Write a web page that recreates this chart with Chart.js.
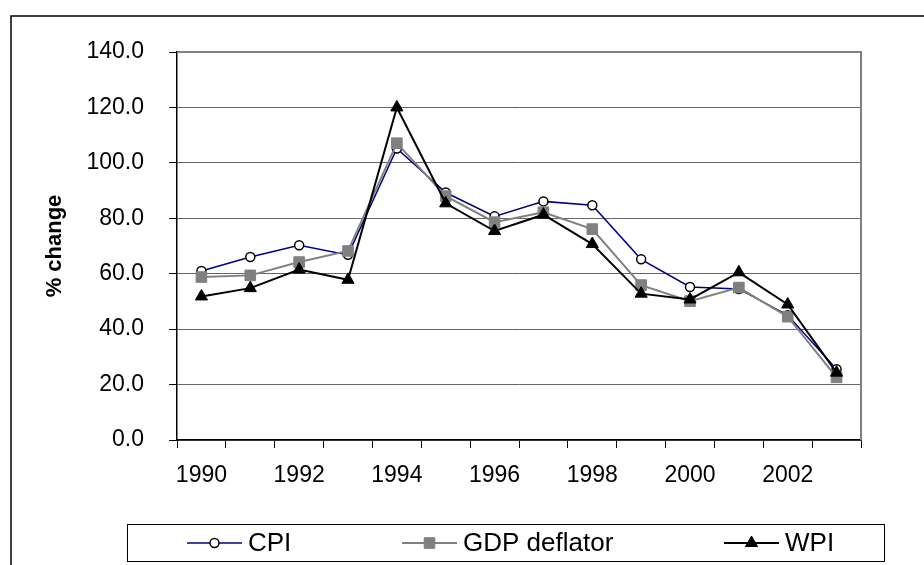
<!DOCTYPE html>
<html>
<head>
<meta charset="utf-8">
<script src="https://cdn.jsdelivr.net/npm/chart.js@4.4.1/dist/chart.umd.min.js"></script>
<style>
  html, body { margin: 0; padding: 0; background: #fff; }
  #wrap { width: 924px; height: 565px; }
</style>
</head>
<body>
<div id="wrap"><canvas id="inflationChart" width="924" height="565"></canvas></div>
<script>
// data
const years = ['1990', '1991', '1992', '1993', '1994', '1995', '1996', '1997', '1998', '1999', '2000', '2001', '2002', '2003'];
const cpi = [61.0, 66.0, 70.3, 66.8, 105.2, 89.3, 80.7, 86.1, 84.7, 65.2, 55.2, 54.5, 45.0, 25.5];
const gdpDeflator = [58.8, 59.4, 64.2, 68.2, 107.1, 88.0, 78.6, 82.2, 76.1, 55.9, 50.1, 55.0, 44.5, 22.6];
const wpi = [51.8, 54.8, 61.5, 57.8, 120.0, 85.4, 75.4, 81.3, 70.7, 52.8, 50.7, 60.5, 48.9, 24.3];
const yTicks = [0, 20, 40, 60, 80, 100, 120, 140];

const font = "'Liberation Sans', Arial, sans-serif";

// frame, plot border and the boxed legend (Excel style)
const excelFrame = {
  id: 'excelFrame',
  afterDraw(chart) {
    const ctx = chart.ctx;
    const a = chart.chartArea;
    ctx.save();
    // outer frame (open on right and bottom)
    ctx.strokeStyle = '#000';
    ctx.lineWidth = 1.5;
    ctx.beginPath();
    ctx.moveTo(11, 565);
    ctx.lineTo(11, 16);
    ctx.lineTo(924, 16);
    ctx.stroke();
    // plot area border top/right
    ctx.strokeStyle = '#808080';
    ctx.lineWidth = 2;
    ctx.beginPath();
    ctx.moveTo(a.left, a.top);
    ctx.lineTo(a.right, a.top);
    ctx.lineTo(a.right, a.bottom);
    ctx.stroke();

    // legend box
    ctx.strokeStyle = '#000';
    ctx.lineWidth = 1;
    ctx.strokeRect(127.5, 524.5, 757, 37);
    const cy = 543;
    const items = [[187, 0], [402, 1], [724, 2]];
    ctx.font = '26px ' + font;
    ctx.textBaseline = 'middle';
    ctx.textAlign = 'left';
    items.forEach(([x0, i]) => {
      const ds = chart.data.datasets[i];
      ctx.strokeStyle = ds.borderColor;
      ctx.lineWidth = ds.borderWidth;
      ctx.beginPath();
      ctx.moveTo(x0, cy);
      ctx.lineTo(x0 + 55, cy);
      ctx.stroke();
      ctx.fillStyle = ds.pointBackgroundColor;
      ctx.strokeStyle = ds.pointBorderColor;
      ctx.lineWidth = ds.pointBorderWidth;
      Chart.helpers.drawPoint(ctx, {
        pointStyle: ds.pointStyle, radius: ds.pointRadius, rotation: 0, borderWidth: ds.pointBorderWidth
      }, x0 + 27.5, cy);
      ctx.fillStyle = '#000';
      ctx.fillText(ds.label, x0 + 61, cy + 1);
    });
    ctx.restore();
  }
};

new Chart(document.getElementById('inflationChart'), {
  type: 'line',
  data: {
    labels: years,
    datasets: [
      {
        label: 'CPI',
        data: cpi,
        borderColor: '#000080',
        borderWidth: 1.5,
        pointStyle: 'circle',
        pointRadius: 4.5,
        pointBackgroundColor: '#fff',
        pointBorderColor: '#000',
        pointBorderWidth: 1.5,
        tension: 0,
        order: 3
      },
      {
        label: 'GDP deflator',
        data: gdpDeflator,
        borderColor: '#808080',
        borderWidth: 2,
        pointStyle: 'rect',
        pointRadius: 7.5,
        pointBackgroundColor: '#808080',
        pointBorderColor: '#808080',
        pointBorderWidth: 1,
        tension: 0,
        order: 2
      },
      {
        label: 'WPI',
        data: wpi,
        borderColor: '#000',
        borderWidth: 2,
        pointStyle: 'triangle',
        pointRadius: 7,
        pointBackgroundColor: '#000',
        pointBorderColor: '#000',
        pointBorderWidth: 1,
        tension: 0,
        order: 1
      }
    ]
  },
  options: {
    responsive: false,
    animation: false,
    layout: {
      padding: { top: 52, right: 63, bottom: 65, left: 0 }
    },
    plugins: {
      legend: { display: false },
      tooltip: { enabled: false }
    },
    scales: {
      x: {
        offset: true,
        afterFit: (s) => { s.height = 60; },
        grid: {
          offset: true,
          drawOnChartArea: false,
          tickLength: 8,
          tickColor: '#000'
        },
        border: { color: '#000', width: 1.5 },
        ticks: {
          autoSkip: false,
          maxRotation: 0,
          padding: 14,
          color: '#000',
          font: { family: font, size: 23 },
          callback: (v, i) => (i % 2 === 0 ? years[i] : '')
        }
      },
      y: {
        min: yTicks[0],
        max: yTicks[yTicks.length - 1],
        afterFit: (s) => { s.width = 177; },
        afterBuildTicks: (s) => { s.ticks = yTicks.map(v => ({ value: v })); },
        grid: {
          color: '#666',
          lineWidth: 1,
          tickLength: 8,
          tickColor: '#000'
        },
        border: { color: '#000', width: 1.5 },
        ticks: {
          padding: 25,
          color: '#000',
          font: { family: font, size: 23 },
          callback: (v) => Number(v).toFixed(1)
        },
        title: {
          display: true,
          text: '% change',
          color: '#000',
          font: { family: font, size: 22, weight: 'bold' },
          padding: { top: 42, bottom: 0 }
        }
      }
    }
  },
  plugins: [excelFrame]
});
</script>
</body>
</html>
